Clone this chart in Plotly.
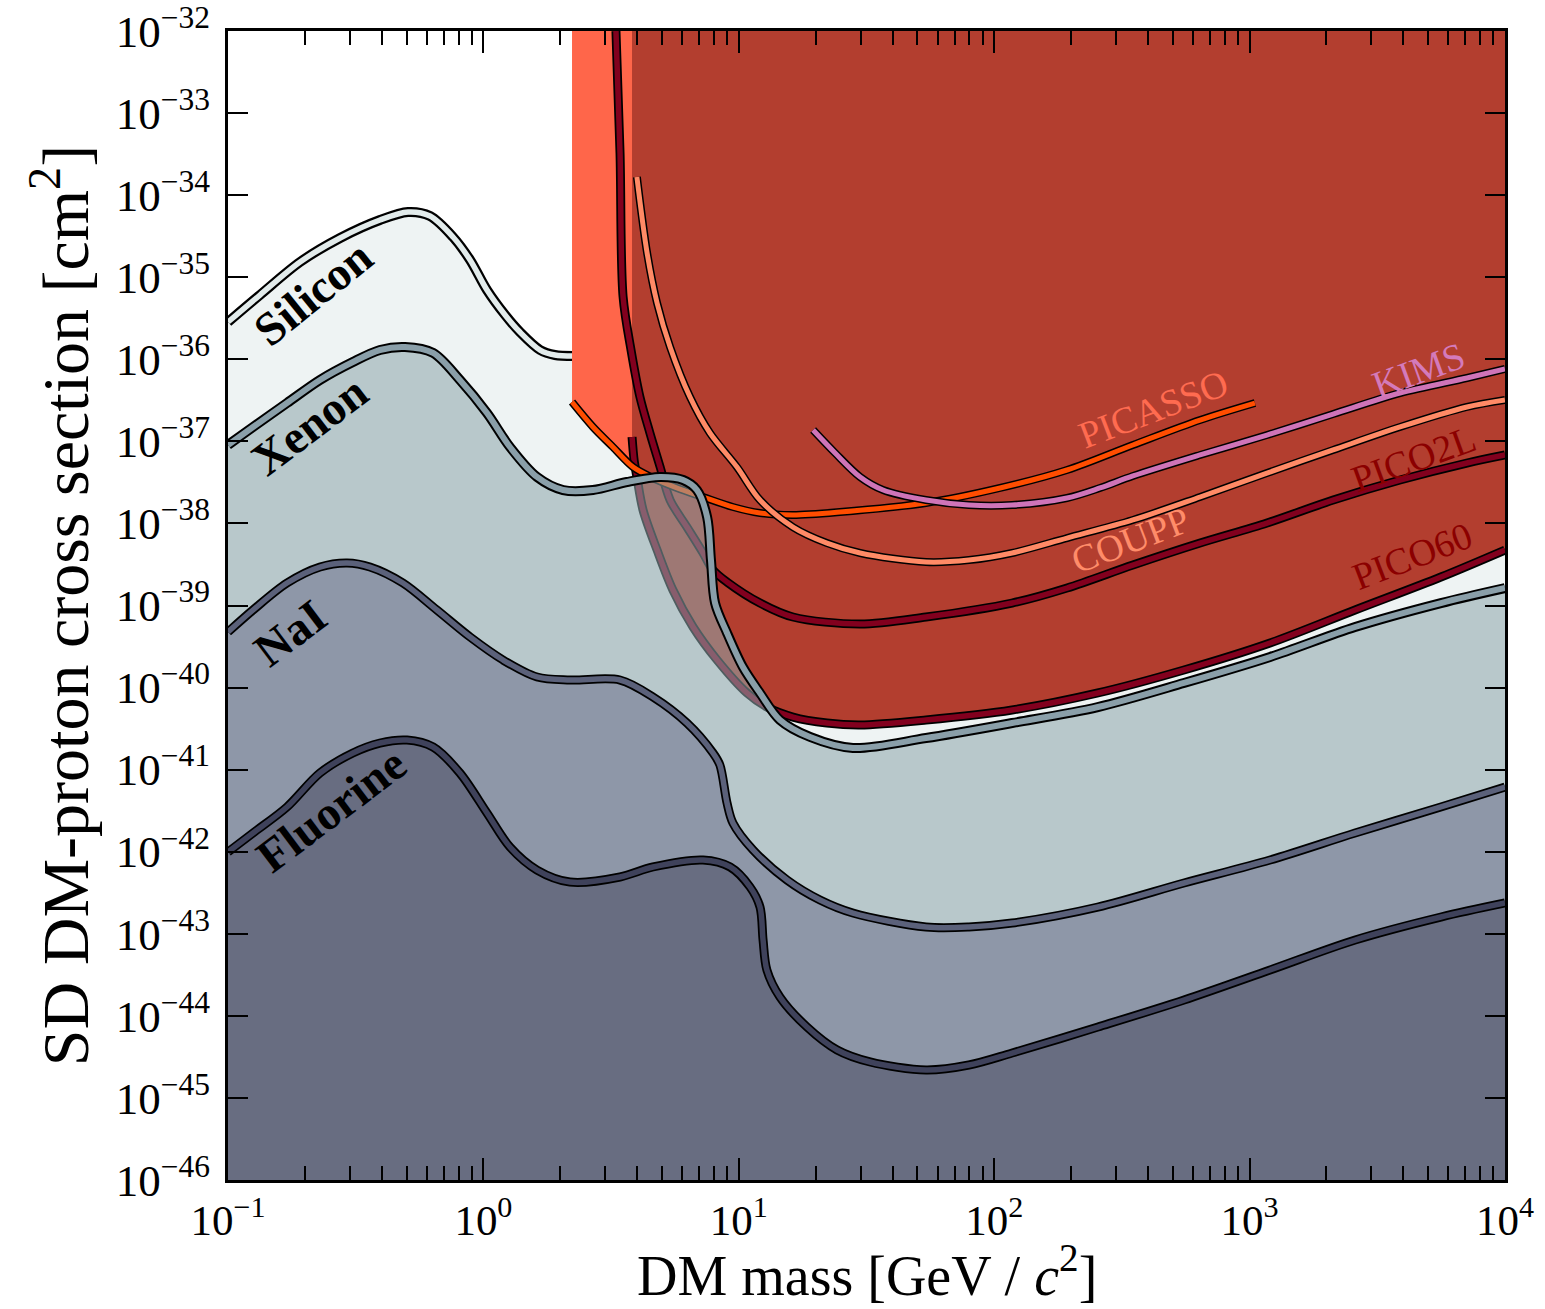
import numpy as np
import plotly.graph_objects as go

# ---- curve data: log10(DM mass / GeV) and log10(SD DM-proton cross section / cm^2) ----
silicon_log_mass = [-1.000, -0.875, -0.718, -0.561, -0.405, -0.295, -0.209, -0.119, -0.052,
                    0.014, 0.085, 0.143, 0.222, 0.280, 0.359]
silicon_log_xsec = [-35.546, -35.217, -34.815, -34.522, -34.303, -34.205, -34.254, -34.510, -34.790,
                    -35.156, -35.460, -35.668, -35.887, -35.948, -35.960]

xenon_log_mass = [-1.000, -0.902, -0.769, -0.640, -0.511, -0.405, -0.307, -0.197, -0.092, 0.014,
                  0.104, 0.210, 0.312, 0.429, 0.562, 0.692, 0.782, 0.836, 0.876, 0.891, 0.907,
                  0.954, 1.016, 1.083, 1.161, 1.279, 1.447, 1.733, 2.070, 2.406, 2.743, 3.080,
                  3.413, 3.749, 4.000]
xenon_log_xsec = [-37.044, -36.825, -36.533, -36.252, -36.033, -35.887, -35.850, -35.923, -36.252, -36.655,
                  -37.069, -37.434, -37.593, -37.593, -37.495, -37.434, -37.471, -37.593, -37.922, -38.446, -38.970,
                  -39.335, -39.750, -40.066, -40.395, -40.602, -40.736, -40.615, -40.432, -40.237, -39.944, -39.628,
                  -39.262, -38.970, -38.787]

nai_log_mass = [-1.000, -0.902, -0.769, -0.640, -0.534, -0.444, -0.315, -0.182, -0.052, 0.077,
                0.210, 0.339, 0.535, 0.664, 0.797, 0.899, 0.926, 0.954, 0.977, 1.056, 1.189,
                1.318, 1.447, 1.733, 1.901, 2.070, 2.406, 2.743, 3.080, 3.413, 3.749, 4.000]
nai_log_xsec = [-39.323, -39.055, -38.726, -38.531, -38.482, -38.531, -38.726, -39.055, -39.384, -39.664,
                -39.871, -39.908, -39.908, -40.115, -40.432, -40.797, -40.944, -41.407, -41.650, -41.979, -42.345,
                -42.588, -42.747, -42.917, -42.917, -42.869, -42.674, -42.381, -42.101, -41.772, -41.455, -41.212]

fluorine_log_mass = [-1.000, -0.902, -0.769, -0.640, -0.511, -0.405, -0.299, -0.197, -0.092, 0.014,
                     0.104, 0.210, 0.339, 0.535, 0.664, 0.860, 0.966, 1.044, 1.083, 1.095, 1.110,
                     1.161, 1.267, 1.385, 1.514, 1.733, 1.901, 2.070, 2.406, 2.743, 3.080, 3.413,
                     3.749, 4.000]
fluorine_log_xsec = [-42.004, -41.772, -41.455, -41.041, -40.797, -40.676, -40.639, -40.724, -41.041, -41.528,
                     -41.943, -42.223, -42.369, -42.308, -42.186, -42.101, -42.186, -42.430, -42.674, -43.076, -43.441,
                     -43.770, -44.136, -44.416, -44.562, -44.660, -44.599, -44.453, -44.136, -43.807, -43.441, -43.076,
                     -42.796, -42.625]

picasso_log_mass = [0.347, 0.429, 0.507, 0.586, 0.664, 0.758, 0.860, 0.977, 1.083, 1.212, 1.396,
                    1.733, 2.023, 2.285, 2.543, 2.806, 3.021]
picasso_log_xsec = [-36.521, -36.825, -37.069, -37.313, -37.447, -37.568, -37.678, -37.800, -37.873, -37.897,
                    -37.861, -37.751, -37.568, -37.349, -37.044, -36.740, -36.533]

coupp_log_mass = [0.601, 0.641, 0.680, 0.731, 0.809, 0.887, 0.993, 1.083, 1.212, 1.345, 1.475,
                  1.733, 1.901, 2.070, 2.285, 2.543, 2.806, 3.068, 3.327, 3.589, 3.851, 4.000]
coupp_log_xsec = [-33.779, -34.705, -35.314, -35.850, -36.460, -36.898, -37.313, -37.715, -38.044, -38.239,
                  -38.360, -38.470, -38.446, -38.360, -38.178, -37.958, -37.678, -37.386, -37.105, -36.825,
                  -36.581, -36.496]

kims_log_mass = [1.291, 1.377, 1.475, 1.565, 1.733, 1.901, 2.070, 2.285, 2.414, 2.543, 2.806,
                 3.068, 3.327, 3.589, 3.851, 4.000]
kims_log_xsec = [-36.862, -37.142, -37.434, -37.593, -37.715, -37.776, -37.776, -37.690, -37.568, -37.422,
                 -37.166, -36.923, -36.667, -36.411, -36.228, -36.118]

pico2l_log_mass = [0.519, 0.535, 0.547, 0.578, 0.613, 0.652, 0.692, 0.731, 0.797, 0.860, 0.899,
                   0.954, 1.083, 1.212, 1.475, 1.733, 2.070, 2.285, 2.543, 2.806, 3.068, 3.327,
                   3.589, 3.851, 4.000]
pico2l_log_xsec = [-32.000, -33.487, -35.241, -35.887, -36.460, -36.898, -37.313, -37.715, -38.044, -38.360,
                   -38.568, -38.714, -38.970, -39.140, -39.226, -39.140, -38.970, -38.787, -38.507, -38.239,
                   -37.995, -37.715, -37.471, -37.264, -37.166]

pico60_log_mass = [0.582, 0.590, 0.601, 0.625, 0.680, 0.742, 0.821, 0.915, 1.032, 1.110, 1.212,
                   1.345, 1.475, 1.733, 2.070, 2.406, 2.743, 3.080, 3.413, 3.749, 4.000]
pico60_log_xsec = [-36.947, -37.227, -37.434, -37.836, -38.324, -38.811, -39.262, -39.664, -40.066, -40.237,
                   -40.359, -40.432, -40.456, -40.395, -40.273, -40.066, -39.786, -39.457, -39.055, -38.653,
                   -38.324]

# axis ranges (log10 units) and tick labels
x_log_range = [-1, 4]
y_log_range = [-46, -32]
x_tick_exponents = [-1, 0, 1, 2, 3, 4]
y_tick_exponents = list(range(-46, -31))

SERIF = "Liberation Serif"
SPLINE = dict(shape="spline", smoothing=0.9)

X_LO, X_HI = 10.0 ** x_log_range[0], 10.0 ** x_log_range[1]
Y_LO, Y_HI = 10.0 ** y_log_range[0], 10.0 ** y_log_range[1]

fig = go.Figure()


def to_lin(lm, ls):
    return 10.0 ** np.asarray(lm, dtype=float), 10.0 ** np.asarray(ls, dtype=float)


def edge(x0, x1, yval):
    """Invisible straight path along a plot edge, used as the partner of a tonexty fill."""
    fig.add_trace(go.Scatter(x=[x0, x1], y=[yval, yval], mode="lines",
                             line=dict(width=0), hoverinfo="skip", showlegend=False))


def region(lm, ls, color):
    x, y = to_lin(lm, ls)
    fig.add_trace(go.Scatter(x=x, y=y, mode="lines", line=dict(width=0, **SPLINE),
                             fill="tonexty", fillcolor=color, hoverinfo="skip", showlegend=False))


def outlined(lm, ls, color, w_out, w_in):
    x, y = to_lin(lm, ls)
    fig.add_trace(go.Scatter(x=x, y=y, mode="lines", line=dict(color="black", width=w_out, **SPLINE),
                             hoverinfo="skip", showlegend=False))
    fig.add_trace(go.Scatter(x=x, y=y, mode="lines", line=dict(color=color, width=w_in, **SPLINE),
                             hoverinfo="skip", showlegend=False))


# white (unexcluded) area above the silicon curve; the plot background carries the silicon fill
edge(X_LO, 10.0 ** silicon_log_mass[-1], Y_HI)
region(silicon_log_mass, silicon_log_xsec, "white")
outlined(silicon_log_mass, silicon_log_xsec, "#e2ebeb", 10, 5.5)

# bubble-chamber exclusion regions
edge(10.0 ** picasso_log_mass[0], 10.0 ** picasso_log_mass[-1], Y_HI)
region(picasso_log_mass, picasso_log_xsec, "#ff664a")
edge(10.0 ** pico60_log_mass[0], X_HI, Y_HI)
region(pico60_log_mass, pico60_log_xsec, "#b33e2f")

# experimental limit curves
outlined(pico60_log_mass, pico60_log_xsec, "#82001e", 9, 5.5)
outlined(pico2l_log_mass, pico2l_log_xsec, "#82001e", 9, 5.5)
outlined(picasso_log_mass, picasso_log_xsec, "#ff4d00", 8, 5)
outlined(kims_log_mass, kims_log_xsec, "#cf74b8", 8, 5)
outlined(coupp_log_mass, coupp_log_xsec, "#ff8a66", 8, 5)

# neutrino floors per target (xenon drawn translucent over the limits)
edge(X_LO, X_HI, Y_LO)
region(xenon_log_mass, xenon_log_xsec, "rgba(140,165,172,0.56)")
edge(X_LO, X_HI, Y_LO)
region(nai_log_mass, nai_log_xsec, "#8e97a8")
edge(X_LO, X_HI, Y_LO)
region(fluorine_log_mass, fluorine_log_xsec, "#686d81")

outlined(xenon_log_mass, xenon_log_xsec, "#8a9fa9", 10, 6)
outlined(nai_log_mass, nai_log_xsec, "#5b617a", 9, 5.5)
outlined(fluorine_log_mass, fluorine_log_xsec, "#3f425b", 9, 5.5)

# curve labels (positions in log10 axis units)
target_labels = [
    ("Silicon", -0.667, -35.19, -39),
    ("Xenon", -0.679, -36.80, -37),
    ("NaI", -0.757, -39.33, -37),
    ("Fluorine", -0.597, -41.49, -37),
]
for text, lx, ly, ang in target_labels:
    fig.add_annotation(x=lx, y=ly, xref="x", yref="y", text=f"<b>{text}</b>", showarrow=False,
                       textangle=ang, font=dict(family=SERIF, size=47, color="black"))

experiment_labels = [
    ("PICASSO", 2.622, -36.60, -21, "#ff6b50"),
    ("COUPP", 2.532, -38.20, -21, "#ff8c69"),
    ("KIMS", 3.663, -36.13, -20, "#d47abb"),
    ("PICO2L", 3.640, -37.21, -20, "#8b0000"),
    ("PICO60", 3.636, -38.40, -21, "#8b0000"),
]
for text, lx, ly, ang, col in experiment_labels:
    fig.add_annotation(x=lx, y=ly, xref="x", yref="y", text=text, showarrow=False,
                       textangle=ang, font=dict(family=SERIF, size=38, color=col))

x_tick_vals = [10.0 ** e for e in x_tick_exponents]
x_tick_text = [f"10<sup>{str(e).replace('-', '−')}</sup>" for e in x_tick_exponents]
x_minor_vals = [k * 10.0 ** e for e in x_tick_exponents[:-1] for k in range(2, 10)]
y_tick_vals = [10.0 ** e for e in y_tick_exponents]
y_tick_text = [f"10<sup>{str(e).replace('-', '−')}</sup>" for e in y_tick_exponents]

axis_common = dict(type="log", showline=True, linecolor="black", linewidth=3, mirror="allticks",
                   ticks="inside", tickcolor="black", tickwidth=2, showgrid=False, zeroline=False,
                   automargin=False, ticklabeloverflow="allow", tickmode="array")

fig.update_xaxes(range=x_log_range, tickvals=x_tick_vals, ticktext=x_tick_text, ticklen=22,
                 tickfont=dict(family=SERIF, size=43, color="black"),
                 minor=dict(ticks="inside", ticklen=14, tickwidth=1.5, tickcolor="black",
                            tickmode="array", tickvals=x_minor_vals, showgrid=False),
                 ticklabelstandoff=0, **axis_common)
fig.update_yaxes(range=y_log_range, tickvals=y_tick_vals, ticktext=y_tick_text, ticklen=20,
                 tickfont=dict(family=SERIF, size=45, color="black"),
                 title=dict(text="SD DM-proton cross section [cm<sup>2</sup>]",
                            font=dict(family=SERIF, size=66, color="black"), standoff=6),
                 ticklabelstandoff=6, **axis_common)

# x-axis title placed just under the tick labels, centred on the plot area
fig.add_annotation(text="DM mass [GeV / <i>c</i><sup>2</sup>]", xref="paper", yref="paper",
                   x=0.5, y=-0.1123, xanchor="center", yanchor="bottom", yshift=1,
                   borderpad=0, showarrow=False,
                   font=dict(family=SERIF, size=56, color="black"))

fig.update_layout(width=1545, height=1309, margin=dict(l=228, r=40, t=31, b=129),
                  paper_bgcolor="white", plot_bgcolor="#eef3f3",
                  font=dict(family=SERIF, color="black"), showlegend=False)

fig.write_html("out.html")
